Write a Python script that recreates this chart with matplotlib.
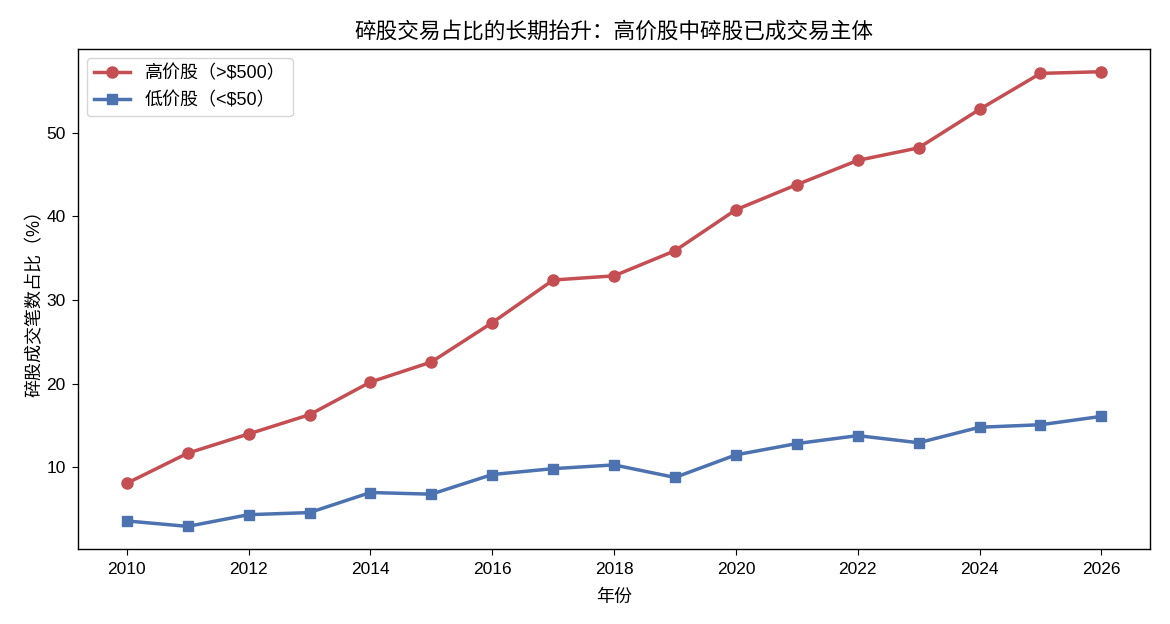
import numpy as np
import matplotlib
matplotlib.use('Agg')
import matplotlib.pyplot as plt

plt.rcParams['font.family'] = ['Liberation Sans', 'Noto Sans CJK SC', 'DejaVu Sans']
plt.rcParams['axes.unicode_minus'] = False

# data
years = list(range(2010, 2027))
high_price = [8.1, 11.7, 14.0, 16.3, 20.2, 22.6, 27.3, 32.4, 32.9, 35.9,
              40.8, 43.8, 46.7, 48.2, 52.8, 57.1, 57.3]
low_price = [3.6, 2.95, 4.35, 4.6, 7.0, 6.8, 9.15, 9.85, 10.3, 8.8,
             11.5, 12.85, 13.8, 12.95, 14.8, 15.1, 16.1]

fig, ax = plt.subplots(figsize=(11.7, 6.24), dpi=100)
fig.subplots_adjust(left=0.0667, right=0.983, top=0.9215, bottom=0.12)

ax.plot(years, high_price, color='#C44E52', marker='o', markersize=8,
        linewidth=2.5, label='高价股（>$500）')
ax.plot(years, low_price, color='#4C72B0', marker='s', markersize=7.5,
        linewidth=2.5, label='低价股（<$50）')

ax.set_xticks(range(2010, 2027, 2))
ax.set_yticks([10, 20, 30, 40, 50])
ax.tick_params(labelsize=12.5, length=4, pad=5)
for s in ax.spines.values():
    s.set_linewidth(1.0)
ax.set_xlabel('年份', fontsize=13, labelpad=9)
ax.set_ylabel('碎股成交笔数占比（%）', fontsize=13, labelpad=2)
ax.set_title('碎股交易占比的长期抬升：高价股中碎股已成交易主体', fontsize=15.6, pad=8)
ax.legend(loc='upper left', fontsize=13)

fig.savefig('out.png', dpi=100)
